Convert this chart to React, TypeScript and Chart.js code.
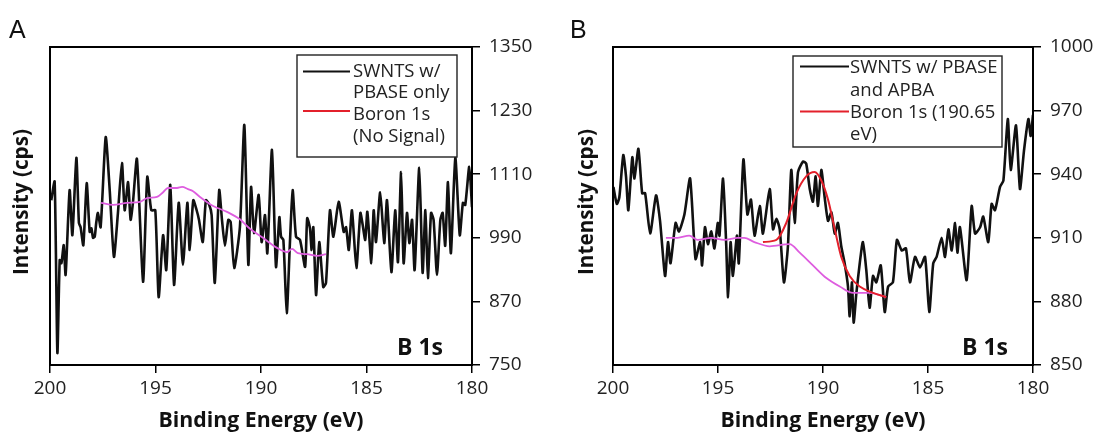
import React, { useEffect, useRef } from 'react';
import { Chart, registerables } from 'chart.js';

Chart.register(...registerables);

// ---------- Panel A data ----------
const energyA = [
  199.94, 199.78, 199.65, 199.54, 199.46, 199.35, 199.26, 199.07, 198.94, 198.75,
  198.63, 198.55, 198.42, 198.26, 198.12, 198.04, 197.96, 197.88, 197.81, 197.73,
  197.60, 197.36, 197.17, 196.97, 196.78, 196.59, 196.46, 196.30, 196.18, 196.07,
  195.88, 195.59, 195.39, 195.20, 195.01, 194.85, 194.64, 194.49, 194.30, 194.12,
  193.90, 193.70, 193.49, 193.38, 193.21, 193.05, 192.94, 192.76, 192.61, 192.45,
  192.34, 192.19, 191.98, 191.85, 191.71, 191.55, 191.44, 191.27, 191.00, 190.79,
  190.60, 190.47, 190.33, 190.11, 189.97, 189.81, 189.70, 189.48, 189.29, 189.13,
  189.05, 188.94, 188.78, 188.63, 188.50, 188.34, 188.15, 187.91, 187.81, 187.68,
  187.60, 187.52, 187.39, 187.24, 187.05, 186.92, 186.73, 186.57, 186.32, 186.08,
  185.97, 185.84, 185.69, 185.48, 185.29, 185.18, 185.06, 184.96, 184.77, 184.66,
  184.55, 184.35, 184.16, 184.03, 183.82, 183.64, 183.51, 183.36, 183.24, 183.08,
  182.97, 182.84, 182.72, 182.50, 182.34, 182.21, 182.09, 181.94, 181.82, 181.66,
  181.50, 181.39, 181.27, 181.14, 181.00, 180.79, 180.58, 180.43, 180.32, 180.13,
  180.00,
];
const intensityA = [
  1061, 1096, 773, 948, 942, 976, 920, 1080, 995, 1141,
  1018, 1010, 976, 1093, 1001, 1008, 990, 992, 1018, 1037,
  1010, 1180, 1080, 954, 1037, 1131, 1042, 1095, 1024, 1056,
  1139, 907, 1105, 1042, 1042, 878, 995, 929, 1090, 901,
  1056, 939, 1056, 967, 1061, 1042, 1024, 982, 1061, 1052,
  1033, 905, 1080, 1024, 975, 1024, 1020, 933, 1010, 1203,
  939, 1086, 999, 1071, 982, 1033, 961, 1156, 935, 1029,
  992, 986, 848, 980, 1080, 992, 986, 935, 1027, 1008,
  967, 1010, 882, 982, 897, 905, 1042, 992, 1058, 1001,
  1010, 967, 1042, 933, 1037, 1014, 986, 1039, 942, 1042,
  982, 1076, 980, 1061, 925, 1042, 944, 1114, 942, 1037,
  980, 1024, 929, 1122, 924, 1042, 914, 1037, 1024, 920,
  1024, 1037, 975, 1095, 961, 1141, 995, 1056, 1052, 1124,
  1048,
];
const bgEnergyA = [
  197.58, 197.01, 196.35, 195.73, 195.40, 194.93, 194.64, 194.41, 193.98, 193.74,
  193.46, 193.22, 192.89, 192.27, 191.61, 191.00, 190.52, 189.91, 189.24, 188.77,
  188.53, 188.25, 187.82, 187.35, 186.92,
];
const bgIntensityA = [
  1056, 1052, 1056, 1058, 1065, 1067, 1076, 1084, 1084, 1086,
  1082, 1078, 1067, 1050, 1039, 1025, 1007, 990, 971, 963,
  969, 961, 959, 956, 959,
];
const yTicksA = [750, 870, 990, 1110, 1230, 1350];

// ---------- Panel B data ----------
const energyB = [
  199.98, 199.82, 199.70, 199.51, 199.38, 199.27, 199.08, 198.98, 198.79, 198.61,
  198.47, 198.23, 197.95, 197.76, 197.52, 197.38, 197.26, 197.02, 196.86, 196.60,
  196.33, 196.07, 195.85, 195.76, 195.62, 195.48, 195.32, 195.17, 195.01, 194.93,
  194.76, 194.61, 194.52, 194.40, 194.29, 194.10, 194.01, 193.79, 193.60, 193.43,
  193.26, 193.01, 192.86, 192.54, 192.38, 192.22, 192.06, 191.86, 191.67, 191.51,
  191.35, 191.19, 190.95, 190.80, 190.63, 190.48, 190.35, 190.24, 190.08, 189.92,
  189.76, 189.60, 189.44, 189.29, 189.13, 188.97, 188.81, 188.73, 188.62, 188.54,
  188.41, 188.25, 188.10, 187.94, 187.78, 187.62, 187.46, 187.25, 187.06, 186.90,
  186.67, 186.48, 186.25, 186.05, 185.86, 185.62, 185.38, 185.14, 184.94, 184.75,
  184.59, 184.35, 184.19, 184.03, 183.87, 183.71, 183.60, 183.48, 183.16, 182.92,
  182.76, 182.52, 182.37, 182.13, 181.97, 181.81, 181.57, 181.41, 181.20, 181.06,
  180.81, 180.62, 180.43, 180.22, 180.11, 180.00,
];
const intensityB = [
  934, 926, 929, 949, 939, 923, 948, 938, 952, 931,
  931, 912, 930, 918, 892, 908, 898, 917, 913, 921,
  938, 900, 908, 897, 915, 907, 913, 905, 917, 911,
  938, 907, 882, 908, 892, 911, 898, 947, 921, 928,
  911, 925, 912, 933, 914, 919, 914, 889, 906, 942,
  917, 941, 946, 945, 933, 927, 939, 925, 942, 929,
  918, 922, 912, 917, 906, 898, 887, 873, 889, 870,
  884, 898, 908, 895, 877, 892, 889, 897, 875, 887,
  889, 909, 904, 905, 889, 901, 896, 901, 875, 898,
  901, 910, 901, 914, 904, 917, 903, 915, 890, 925,
  912, 915, 920, 908, 926, 923, 934, 937, 966, 942,
  963, 933, 951, 966, 958, 968,
];
const fitEnergyB = [
  192.86, 192.22, 191.75, 191.27, 190.80, 190.40, 190.08, 189.76, 189.44, 189.13,
  188.73, 188.25, 187.62, 186.99,
];
const fitIntensityB = [
  908, 909, 917, 931, 939, 941, 937, 928, 914, 901,
  892, 887, 884, 882,
];
const bgEnergyB = [
  197.48, 196.92, 196.37, 195.97, 195.33, 194.70, 194.06, 193.75, 193.27, 192.54,
  191.59, 191.11, 190.48, 189.84, 189.20, 188.57, 187.78, 186.99,
];
const bgIntensityB = [
  910, 910, 911, 909, 910, 909, 910, 910, 908, 906,
  907, 903, 897, 891, 887, 884, 884, 882,
];
const yTicksB = [850, 880, 910, 940, 970, 1000];

const xTicks = [200, 195, 190, 185, 180];

const legendTextA = [['SWNTS w/', 'PBASE only'], ['Boron 1s', '(No Signal)']];
const legendTextB = [['SWNTS w/ PBASE', 'and APBA'], ['Boron 1s (190.65', 'eV)']];

const xTitle = 'Binding Energy (eV)';
const yTitle = 'Intensity (cps)';
const peakLabel = 'B 1s';

// ---------- styles ----------
const FONT = '"Open Sans", "DejaVu Sans", sans-serif';
const BLACK = '#111111';
const RED = '#e3202b';
const MAGENTA = '#de5ddf';

type Panel = {
  letter: string;
  main: [number[], number[]];
  bg: [number[], number[]];
  fit?: [number[], number[]];
  yTicks: number[];
  legend: string[][];
  plotLeft: number;
  rightW: number;
  yTitleX: number;
  legendBox: [number, number, number, number];
  sampleX: [number, number];
  sampleY: [number, number];
  textX: number;
  baselines: number[];
  peakX: number;
};

const panels: Panel[] = [
  {
    letter: 'A',
    main: [energyA, intensityA],
    bg: [bgEnergyA, bgIntensityA],
    yTicks: yTicksA,
    legend: legendTextA,
    plotLeft: 50,
    rightW: 79,
    yTitleX: 28,
    legendBox: [297, 55, 160, 102],
    sampleX: [303, 350],
    sampleY: [71.5, 111],
    textX: 353,
    baselines: [76.7, 98.3, 120.3, 142],
    peakX: 397,
  },
  {
    letter: 'B',
    main: [energyB, intensityB],
    bg: [bgEnergyB, bgIntensityB],
    fit: [fitEnergyB, fitIntensityB],
    yTicks: yTicksB,
    legend: legendTextB,
    plotLeft: 62,
    rightW: 69,
    yTitleX: 42,
    legendBox: [242, 56, 209, 91],
    sampleX: [249, 298],
    sampleY: [66.5, 111.5],
    textX: 299,
    baselines: [73.3, 95.5, 118, 140],
    peakX: 411,
  },
];

function pts(xs: number[], ys: number[]) {
  return xs.map((x, i) => ({ x, y: ys[i] }));
}

function scaledText(
  ctx: CanvasRenderingContext2D,
  text: string,
  x: number,
  y: number,
  font: string,
  width: number,
  rotate: boolean
) {
  ctx.save();
  ctx.font = font;
  const w = ctx.measureText(text).width;
  ctx.translate(x, y);
  if (rotate) ctx.rotate(-Math.PI / 2);
  ctx.scale(width / w, 1);
  ctx.textAlign = 'center';
  ctx.textBaseline = 'alphabetic';
  ctx.fillText(text, 0, 0);
  ctx.restore();
}

function makeOverlay(p: Panel) {
  return {
    id: 'overlay' + p.letter,
    afterDraw(chart: any) {
      const ctx: CanvasRenderingContext2D = chart.ctx;
      const a = chart.chartArea;
      ctx.save();
      // frame
      ctx.strokeStyle = '#000';
      ctx.lineWidth = 2;
      ctx.strokeRect(a.left, a.top, a.right - a.left, a.bottom - a.top);

      // legend
      const [bx, by, bw, bh] = p.legendBox;
      ctx.fillStyle = '#fff';
      ctx.fillRect(bx, by, bw, bh);
      ctx.lineWidth = 1.4;
      ctx.strokeStyle = '#222';
      ctx.strokeRect(bx, by, bw, bh);
      const colors = [BLACK, RED];
      for (let i = 0; i < 2; i++) {
        ctx.strokeStyle = colors[i];
        ctx.lineWidth = 2;
        ctx.beginPath();
        ctx.moveTo(p.sampleX[0], p.sampleY[i]);
        ctx.lineTo(p.sampleX[1], p.sampleY[i]);
        ctx.stroke();
      }
      ctx.fillStyle = '#222';
      ctx.font = '18.5px ' + FONT;
      ctx.textAlign = 'left';
      ctx.textBaseline = 'alphabetic';
      const lines = p.legend.flat();
      lines.forEach((t, i) => ctx.fillText(t, p.textX, p.baselines[i]));

      // peak label
      ctx.fillStyle = '#111';
      ctx.font = 'bold 23px ' + FONT;
      ctx.fillText(peakLabel, p.peakX, 355);

      // panel letter
      ctx.font = '25px "Liberation Sans", Arial, sans-serif';
      ctx.fillStyle = '#111';
      ctx.fillText(p.letter, p.letter === 'A' ? 9 : 19, 38);

      // axis titles
      ctx.fillStyle = '#111';
      scaledText(ctx, xTitle, (a.left + a.right) / 2, 426.5, 'bold 22px ' + FONT, 205, false);
      scaledText(ctx, yTitle, p.yTitleX, 202, 'bold 22px ' + FONT, 146, true);
      ctx.restore();
    },
  };
}

function PanelChart({ p }: { p: Panel }) {
  const ref = useRef<HTMLCanvasElement | null>(null);
  useEffect(() => {
    if (!ref.current) return;
    const datasets: any[] = [];
    if (p.fit) {
      datasets.push({
        data: pts(p.fit[0], p.fit[1]),
        borderColor: RED,
        borderWidth: 2,
        pointRadius: 0,
        tension: 0.4,
        cubicInterpolationMode: 'monotone',
      });
    }
    datasets.push({
      data: pts(p.bg[0], p.bg[1]),
      borderColor: MAGENTA,
      borderWidth: 1.8,
      pointRadius: 0,
      tension: 0.4,
      cubicInterpolationMode: 'monotone',
    });
    datasets.push({
      data: pts(p.main[0], p.main[1]),
      borderColor: BLACK,
      borderWidth: 2.6,
      pointRadius: 0,
      tension: 0.2,
    });
    const yMin = p.yTicks[0];
    const yMax = p.yTicks[p.yTicks.length - 1];
    const chart = new Chart(ref.current, {
      type: 'line',
      data: { datasets },
      options: {
        animation: false,
        responsive: false,
        devicePixelRatio: 1,
        layout: { padding: { top: 47, left: p.plotLeft, right: 0, bottom: 0 } },
        plugins: { legend: { display: false }, tooltip: { enabled: false } },
        events: [],
        scales: {
          x: {
            type: 'linear',
            reverse: true,
            min: 180,
            max: 200,
            afterFit: (s: any) => {
              s.height = 68;
            },
            afterBuildTicks: (s: any) => {
              s.ticks = xTicks.map((v) => ({ value: v }));
            },
            grid: {
              display: true,
              drawOnChartArea: false,
              drawTicks: true,
              tickLength: 8,
              color: '#000',
              lineWidth: 1.5,
            },
            border: { display: false },
            ticks: {
              font: { family: FONT, size: 19 },
              color: '#222',
              padding: 4,
              maxRotation: 0,
              autoSkip: false,
              callback: (v: any) => String(v),
            },
          },
          y: {
            type: 'linear',
            position: 'right',
            min: yMin,
            max: yMax,
            afterFit: (s: any) => {
              s.width = p.rightW;
            },
            afterBuildTicks: (s: any) => {
              s.ticks = p.yTicks.map((v) => ({ value: v }));
            },
            grid: {
              display: true,
              drawOnChartArea: false,
              drawTicks: true,
              tickLength: 8,
              color: '#000',
              lineWidth: 1.5,
            },
            border: { display: false },
            ticks: {
              font: { family: FONT, size: 19 },
              color: '#222',
              padding: 9,
              autoSkip: false,
              callback: (v: any) => String(v),
            },
          },
        },
      },
      plugins: [makeOverlay(p)],
    } as any);
    return () => chart.destroy();
  }, [p]);
  return <canvas ref={ref} width={551} height={433} style={{ display: 'block', width: 551, height: 433 }} />;
}

export default function App() {
  return (
    <div
      style={{
        position: 'absolute',
        left: 0,
        top: 0,
        width: 1102,
        height: 433,
        display: 'flex',
        background: '#fff',
      }}
    >
      {panels.map((p) => (
        <PanelChart key={p.letter} p={p} />
      ))}
    </div>
  );
}
